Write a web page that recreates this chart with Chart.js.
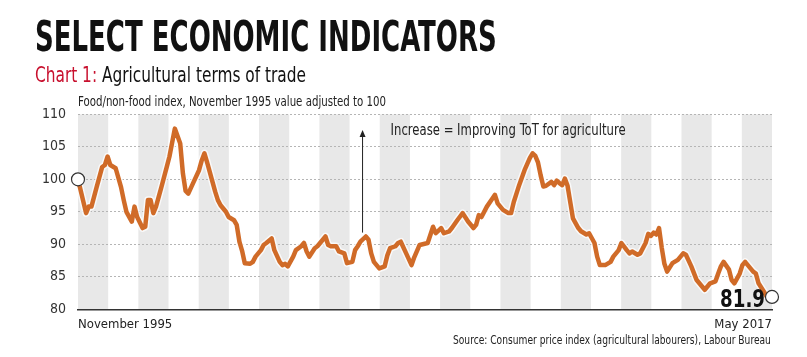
<!DOCTYPE html>
<html><head><meta charset="utf-8">
<script src="https://cdn.jsdelivr.net/npm/chart.js@4.4.1/dist/chart.umd.min.js"></script>
<style>
html,body{margin:0;padding:0;background:#fff;width:807px;height:357px;overflow:hidden;}
#wrap{position:relative;width:807px;height:357px;}
canvas{position:absolute;left:0;top:0;}
.t{position:absolute;white-space:nowrap;line-height:1;transform-origin:0 0;font-family:"Liberation Sans Narrow","DejaVu Sans Condensed","Roboto Condensed",sans-serif;}
</style></head><body>
<div id="wrap">
<canvas id="c" width="807" height="357"></canvas>
<div class="t" data-w="462" style="left:35px;top:16px;font-size:42px;font-weight:bold;color:#111;">SELECT ECONOMIC INDICATORS</div>
<div class="t" data-w="271" style="left:35px;top:64px;font-size:22px;color:#111;"><span style="color:#c8102e">Chart 1:</span> Agricultural terms of trade</div>
<div class="t" data-w="308" style="left:78px;top:94px;font-size:14px;color:#222;">Food/non-food index, November 1995 value adjusted to 100</div>
<div class="t" data-w="318" data-right="771" style="top:333px;font-size:13px;color:#222;">Source: Consumer price index (agricultural labourers), Labour Bureau</div>
</div>
<script>
// ---- data ----
const months = ["1995-11","1996-02","1996-03","1996-04","1996-06","1996-08","1996-09","1996-10","1996-11",
"1997-01","1997-03","1997-04","1997-05","1997-07","1997-08","1997-09","1997-11","1997-12",
"1998-01","1998-02","1998-03","1998-04","1998-06","1998-08","1998-09","1998-11",
"1999-01","1999-02","1999-03","1999-04","1999-06","1999-08","1999-09","1999-10","1999-11",
"2000-01","2000-02","2000-03","2000-04","2000-06","2000-07","2000-09","2000-10","2000-11","2000-12",
"2001-01","2001-03","2001-04","2001-05","2001-07","2001-08","2001-09","2001-11","2001-12",
"2002-02","2002-03","2002-04","2002-05","2002-07","2002-08","2002-10","2002-11","2002-12",
"2003-01","2003-03","2003-04","2003-05","2003-07","2003-08","2003-09","2003-11","2003-12",
"2004-02","2004-03","2004-05","2004-06","2004-07","2004-08","2004-10","2004-11","2004-12",
"2005-01","2005-03","2005-05","2005-06","2005-07","2005-09","2005-10","2005-11",
"2006-01","2006-03","2006-04","2006-06","2006-09","2006-11","2006-12",
"2007-02","2007-03","2007-05","2007-06","2007-08","2007-10","2007-12",
"2008-02","2008-03","2008-04","2008-05","2008-07","2008-09","2008-10","2008-11",
"2009-01","2009-03","2009-04","2009-05","2009-06","2009-07","2009-09","2009-11","2009-12",
"2010-01","2010-02","2010-03","2010-04","2010-05","2010-07","2010-08","2010-09","2010-10","2010-11","2010-12",
"2011-01","2011-02","2011-03","2011-05","2011-06","2011-08","2011-09","2011-11","2011-12",
"2012-01","2012-03","2012-05","2012-06","2012-08","2012-09","2012-11","2012-12",
"2013-01","2013-03","2013-04","2013-06","2013-07","2013-08","2013-09","2013-10","2013-11","2013-12",
"2014-01","2014-02","2014-04","2014-06","2014-08","2014-09","2014-11",
"2015-01","2015-03","2015-04","2015-06","2015-08","2015-09","2015-10","2015-11",
"2016-01","2016-02","2016-03","2016-05","2016-06","2016-07","2016-09","2016-10","2016-11","2016-12",
"2017-02","2017-03","2017-05"];
const values = [100.0,94.8,95.8,95.8,98.9,101.9,102.2,103.5,102.2,
101.7,98.8,96.8,95.0,93.5,95.8,94.2,92.5,92.7,
96.8,96.8,94.8,95.8,98.8,101.9,103.5,107.8,
105.5,100.9,98.2,97.8,99.6,101.4,102.9,104.0,102.6,
99.6,98.1,96.8,96.0,95.0,94.2,93.7,93.0,90.4,89.0,
87.1,87.0,87.3,88.1,89.1,89.9,90.2,90.9,89.1,
87.3,86.8,87.0,86.6,88.1,89.1,89.7,90.2,88.9,
88.1,89.4,89.7,90.2,91.2,89.9,89.7,89.7,88.9,
88.6,87.1,87.3,89.1,89.7,90.4,91.2,90.7,88.6,
87.3,86.3,86.6,88.3,89.4,89.7,90.2,90.4,
88.6,86.8,88.0,89.9,90.2,92.7,91.7,
92.5,91.7,92.0,92.5,93.7,94.8,93.5,
92.5,93.0,94.5,94.2,95.8,97.0,97.6,96.3,
95.3,94.8,94.8,96.5,97.8,99.1,101.4,103.3,104.0,
103.6,102.6,100.6,98.9,99.0,99.6,99.1,99.8,99.4,99.1,100.1,
99.0,96.5,94.0,92.5,92.0,91.5,91.7,90.2,88.1,
86.8,86.8,87.3,88.1,89.1,90.2,89.1,88.6,
88.9,88.4,88.6,90.2,91.6,91.3,91.8,91.5,92.5,89.5,
87.0,85.8,87.1,87.6,88.6,88.4,86.6,
84.5,83.5,83.0,84.0,84.3,85.5,86.6,87.3,
86.1,84.5,84.0,85.5,86.8,87.3,86.3,85.8,85.5,84.0,
82.7,82.0,81.9];
const xTickLabels = ["November 1995","May 2017"];
const yTicks = [80,85,90,95,100,105,110];
const annotationText = "Increase = Improving ToT for agriculture";

// ---- helpers ----
document.querySelectorAll('.t').forEach(el=>{
  const w = +el.dataset.w; const cw = el.offsetWidth;
  el.style.transform = 'scaleX(' + (w/cw) + ')';
  if (el.dataset.right) el.style.left = (+el.dataset.right - w) + 'px';
});
const FONT = '"Liberation Sans Narrow","DejaVu Sans Condensed","Roboto Condensed",sans-serif';
const start = months[0].split('-').map(Number);
const mIdx = s => { const [y,m] = s.split('-').map(Number); return (y-start[0])*12 + (m-start[1]); };
const pts = months.map((s,i)=>({x:mIdx(s), y:values[i]}));
const lastIdx = pts.length-1;
const xMax = pts[lastIdx].x;

function fitText(ctx, text, x, y, w, align){
  const mw = ctx.measureText(text).width;
  ctx.save();
  ctx.translate(align==='right' ? x - w : x, y);
  ctx.scale(w/mw, 1);
  ctx.textAlign = 'left';
  ctx.fillText(text, 0, 0);
  ctx.restore();
}

const bandsPlugin = {
  id:'bands',
  beforeDraw(chart){
    const {ctx, chartArea:a} = chart;
    ctx.save();
    ctx.fillStyle = '#fff'; ctx.fillRect(0,0,chart.width,chart.height);
    const n = 23, bw = (a.right-a.left)/n;
    ctx.fillStyle = '#e8e8e8';
    for (let i=0;i<n;i+=2) ctx.fillRect(a.left + i*bw, a.top, bw, a.bottom-a.top);
    ctx.restore();
  }
};
const annPlugin = {
  id:'ann',
  afterDatasetsDraw(chart){
    const {ctx, scales:{x,y}} = chart;
    ctx.save();
    // arrow
    const ax = x.getPixelForValue(105.6), y0 = y.getPixelForValue(91.8), y1 = y.getPixelForValue(107.6);
    ctx.strokeStyle = '#222'; ctx.fillStyle = '#222'; ctx.lineWidth = 1;
    ctx.beginPath(); ctx.moveTo(ax+0.5, y0); ctx.lineTo(ax+0.5, y1+4); ctx.stroke();
    ctx.beginPath(); ctx.moveTo(ax+0.5, y1); ctx.lineTo(ax-2.5, y1+7); ctx.lineTo(ax+3.5, y1+7); ctx.closePath(); ctx.fill();
    // text
    ctx.font = '15px ' + FONT; ctx.fillStyle = '#222'; ctx.textBaseline = 'alphabetic';
    fitText(ctx, annotationText, x.getPixelForValue(116.2), y.getPixelForValue(106.8), 235, 'left');
    // last value label
    const lx = x.getPixelForValue(pts[lastIdx].x);
    ctx.font = 'bold 25px ' + FONT; ctx.fillStyle = '#111';
    fitText(ctx, values[lastIdx].toFixed(1), lx - 7, y.bottom - 2, 45, 'right');
    ctx.restore();
  }
};

new Chart(document.getElementById('c'), {
  type:'line',
  data:{datasets:[
    {data:pts, borderColor:'#d06b28', borderWidth:4.5, tension:0, borderJoinStyle:'round', borderCapStyle:'round',
     pointRadius:c=>(c.dataIndex===0||c.dataIndex===lastIdx)?6.5:0, pointBackgroundColor:'#fff',
     pointBorderColor:'#333', pointBorderWidth:1.2, clip:false, order:1},
    {data:pts, borderColor:'rgba(255,255,255,0.75)', borderWidth:7.5, tension:0, borderJoinStyle:'round', pointRadius:0, clip:false, order:2}
  ]},
  options:{
    responsive:false, animation:false, devicePixelRatio:1, events:[],
    layout:{padding:{top:114.3,left:0,right:35,bottom:0}},
    plugins:{legend:{display:false}, tooltip:{enabled:false}},
    scales:{
      x:{type:'linear', min:0, max:xMax,
        afterBuildTicks:s=>{ s.ticks = [{value:0},{value:xMax}]; },
        afterFit:s=>{ s.height = 357-309.3; },
        grid:{display:false, drawTicks:false},
        border:{display:true, color:'#333', width:1.5},
        ticks:{align:'inner', maxRotation:0, autoSkip:false, padding:8, color:'#222',
          font:{family:FONT, size:13},
          callback:v=> v===0 ? xTickLabels[0] : xTickLabels[1]}
      },
      y:{min:yTicks[0], max:yTicks[yTicks.length-1],
        afterBuildTicks:s=>{ s.ticks = yTicks.map(v=>({value:v})); },
        afterFit:s=>{ s.width = 78; },
        grid:{drawTicks:false, color:c=> c.tick && c.tick.value===yTicks[0] ? 'rgba(0,0,0,0)' : '#b5b5b5', lineWidth:1},
        border:{display:false, dash:[2,2]},
        ticks:{padding:12, color:'#333', font:{family:FONT, size:14}}
      }
    }
  },
  plugins:[bandsPlugin, annPlugin]
});
</script>
</body></html>
